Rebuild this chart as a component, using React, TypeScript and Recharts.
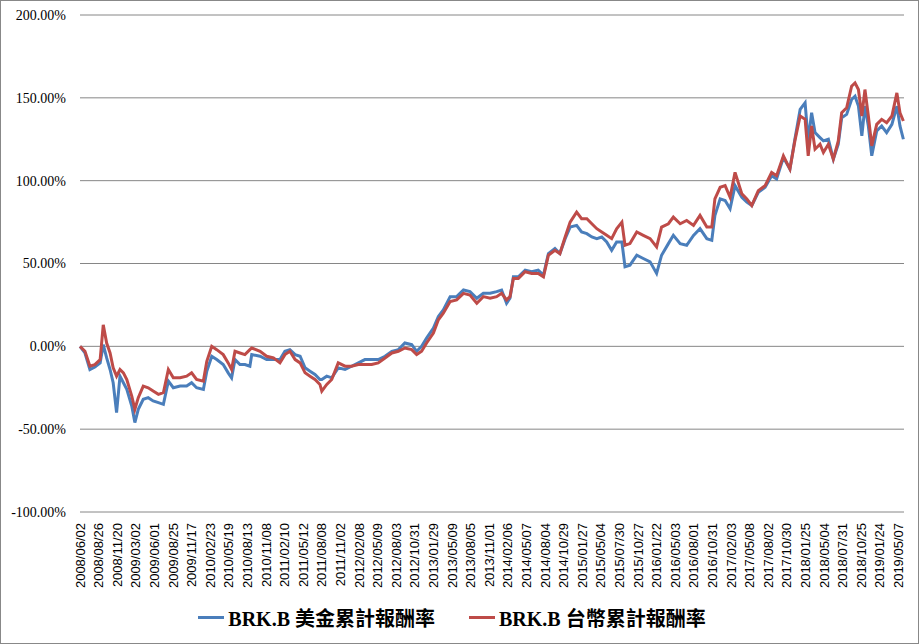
import { LineChart, Line, XAxis, YAxis, CartesianGrid, Legend } from 'recharts';

// tick labels on the category axis, one every 60 trading days
const TICK_LABELS = [
  '2008/06/02', '2008/08/26', '2008/11/20', '2009/03/02', '2009/06/01', '2009/08/25',
  '2009/11/17', '2010/02/23', '2010/05/19', '2010/08/13', '2010/11/08', '2011/02/10',
  '2011/05/12', '2011/08/08', '2011/11/02', '2012/02/08', '2012/05/09', '2012/08/03',
  '2012/10/31', '2013/01/29', '2013/05/09', '2013/08/05', '2013/11/01', '2014/02/06',
  '2014/05/07', '2014/08/04', '2014/10/29', '2015/01/27', '2015/05/04', '2015/07/30',
  '2015/10/27', '2016/01/22', '2016/05/03', '2016/08/01', '2016/10/31', '2017/02/03',
  '2017/05/08', '2017/08/02', '2017/10/30', '2018/01/25', '2018/05/04', '2018/07/31',
  '2018/10/25', '2019/01/24', '2019/05/07',
];
const TICK_STEP = 60;
const LAST_DAY = 2658;

const SERIES_NAMES = ['BRK.B 美金累計報酬率', 'BRK.B 台幣累計報酬率'];

// trading-day index of each sampled point
const DAY = [
  0, 16, 32, 48, 65, 75, 86, 97, 107, 118, 129, 140, 151, 167, 177, 188, 204, 220, 236, 253,
  269, 285, 301, 323, 344, 360, 376, 398, 409, 425, 441, 462, 478, 489, 500, 516, 532, 548, 554, 581,
  602, 624, 645, 661, 677, 694, 710, 726, 742, 758, 774, 780, 796, 812, 833, 855, 876, 898, 919, 941,
  962, 984, 1006, 1027, 1048, 1070, 1086, 1102, 1118, 1140, 1156, 1172, 1194, 1215, 1237, 1258, 1280, 1301, 1323, 1344,
  1360, 1376, 1387, 1398, 1414, 1436, 1457, 1478, 1495, 1511, 1532, 1548, 1565, 1581, 1602, 1618, 1635, 1651, 1667, 1683,
  1699, 1715, 1731, 1748, 1758, 1774, 1796, 1817, 1839, 1860, 1876, 1898, 1914, 1936, 1957, 1979, 2000, 2022, 2038, 2048,
  2065, 2081, 2097, 2113, 2135, 2151, 2167, 2188, 2210, 2231, 2247, 2269, 2290, 2306, 2323, 2339, 2349, 2360, 2371, 2387,
  2398, 2414, 2430, 2446, 2457, 2473, 2489, 2500, 2511, 2522, 2532, 2543, 2554, 2570, 2586, 2602, 2619, 2635, 2645, 2656,
];

// BRK.B 美金累計報酬率 (%)
const USD = [
  0, -4, -14, -12.5, -10, 1, -7, -14, -22, -40, -18, -22, -26, -36, -46, -38, -32, -31, -33, -34,
  -35, -21, -25, -24, -24, -22, -25, -26, -15, -6, -8, -11, -16, -19, -8, -11, -11, -12, -5, -6,
  -8, -8, -8, -3, -2, -5, -6, -13, -15, -17, -20, -20, -18, -19, -13, -14, -12, -10, -8, -8,
  -8, -6, -3, -2, 2, 1, -3, 0, 5, 11, 18, 22, 30, 30, 34, 33, 29, 32, 32, 33,
  34, 26, 29, 42, 42, 46, 45, 46, 43, 56, 59, 56, 65, 72, 73, 69, 68, 66, 65, 66,
  63, 58, 63, 63, 48, 49, 55, 53, 51, 44, 55, 62, 67, 62, 61, 67, 71, 65, 64, 79,
  89, 88, 83, 97, 90, 87, 85, 93, 96, 103, 101, 114, 107, 125, 143, 147, 124, 141, 129, 126,
  124, 125, 113, 122, 138, 140, 149, 151, 145, 127, 145, 133, 115, 130, 133, 129, 134, 145, 133, 125,
];

// BRK.B 台幣累計報酬率 (%)
const TWD = [
  0, -3, -12, -11, -8, 13, 2, -4, -13, -18, -14, -16, -20, -30, -38, -31, -24, -25, -27, -29,
  -28, -14, -19, -19, -18, -16, -20, -21, -9, 0, -2, -5, -10, -14, -3, -4, -5, -2, -1, -3,
  -6, -7, -10, -5, -3, -8, -10, -16, -18, -20, -23, -27, -23, -20, -10, -12, -12, -11, -11, -11,
  -10, -7, -4, -3, -1, -2, -5, -3, 2, 8, 16, 20, 27, 28, 32, 31, 26, 30, 29, 30,
  32, 28, 30, 41, 41, 45, 44, 44, 42, 55, 58, 56, 66, 75, 81, 77, 77, 74, 71, 69,
  67, 65, 71, 75, 61, 62, 69, 67, 65, 60, 72, 74, 78, 74, 76, 73, 79, 72, 72, 89,
  96, 97, 90, 105, 92, 89, 85, 94, 97, 105, 103, 115, 107, 124, 139, 137, 115, 133, 119, 122,
  117, 122, 113, 124, 141, 144, 157, 159, 155, 139, 155, 139, 121, 134, 137, 135, 139, 153, 141, 136,
];

const Y_TICKS = [-100, -50, 0, 50, 100, 150, 200];

const data = DAY.map((day, i) => ({ day, usd: USD[i], twd: TWD[i] }));
const tickDays = TICK_LABELS.map((_, k) => k * TICK_STEP);

const DateTick = ({ x, y, payload }: any) => (
  <text
    transform={`translate(${x},${y}) rotate(-90)`}
    textAnchor="end"
    dy="0.35em"
    fontSize={13}
    fontFamily='"Liberation Sans", Arial, sans-serif'
    fill="#000"
  >
    {TICK_LABELS[Math.round(payload.value / TICK_STEP)]}
  </text>
);

const renderLegend = ({ payload }: any) => {
  // keep the series order, not the alphabetical one
  const items = [...payload].sort(
    (a: any, b: any) => SERIES_NAMES.indexOf(a.value) - SERIES_NAMES.indexOf(b.value)
  );
  return (
    <div
      style={{
        height: 60,
        paddingTop: 6,
        boxSizing: 'border-box',
        display: 'flex',
        justifyContent: 'center',
        alignItems: 'center',
        gap: 34,
      }}
    >
      {items.map((entry: any) => (
        <div key={entry.value} style={{ display: 'flex', alignItems: 'center' }}>
          <span style={{ width: 26, height: 3, background: entry.color, marginRight: 4 }} />
          <span
            style={{
              fontFamily: '"Liberation Serif", "Noto Sans CJK TC", serif',
              fontWeight: 'bold',
              fontSize: 20,
              color: '#000',
            }}
          >
            {entry.value}
          </span>
        </div>
      ))}
    </div>
  );
};

export default function App() {
  return (
    <div style={{ position: 'absolute', top: 0, left: 0, width: 919, height: 644, background: '#fff' }}>
      <LineChart width={919} height={644} data={data} margin={{ top: 15, right: 15, left: 0, bottom: 0 }}>
        <CartesianGrid vertical={false} stroke="#868686" strokeWidth={1} />
        <XAxis
          type="number"
          dataKey="day"
          domain={[0, LAST_DAY]}
          ticks={tickDays}
          interval={0}
          height={72}
          axisLine={false}
          tickLine={false}
          tickSize={0}
          tickMargin={11}
          tick={<DateTick />}
        />
        <YAxis
          domain={[-100, 200]}
          ticks={Y_TICKS}
          width={80}
          axisLine={false}
          tickLine={false}
          tickSize={0}
          tickMargin={14}
          tickFormatter={(v: number) => `${v.toFixed(2)}%`}
          tick={{ fontSize: 14, fill: '#000', fontFamily: '"Liberation Serif", "Times New Roman", serif' }}
        />
        <Legend verticalAlign="bottom" content={renderLegend} />
        <Line
          type="linear"
          dataKey="usd"
          name={SERIES_NAMES[0]}
          stroke="#4A7EBB"
          strokeWidth={3}
          dot={false}
          isAnimationActive={false}
        />
        <Line
          type="linear"
          dataKey="twd"
          name={SERIES_NAMES[1]}
          stroke="#BE4B48"
          strokeWidth={3}
          dot={false}
          isAnimationActive={false}
        />
      </LineChart>
      <div
        style={{
          position: 'absolute',
          inset: 0,
          border: '1px solid #888',
          pointerEvents: 'none',
        }}
      />
    </div>
  );
}
